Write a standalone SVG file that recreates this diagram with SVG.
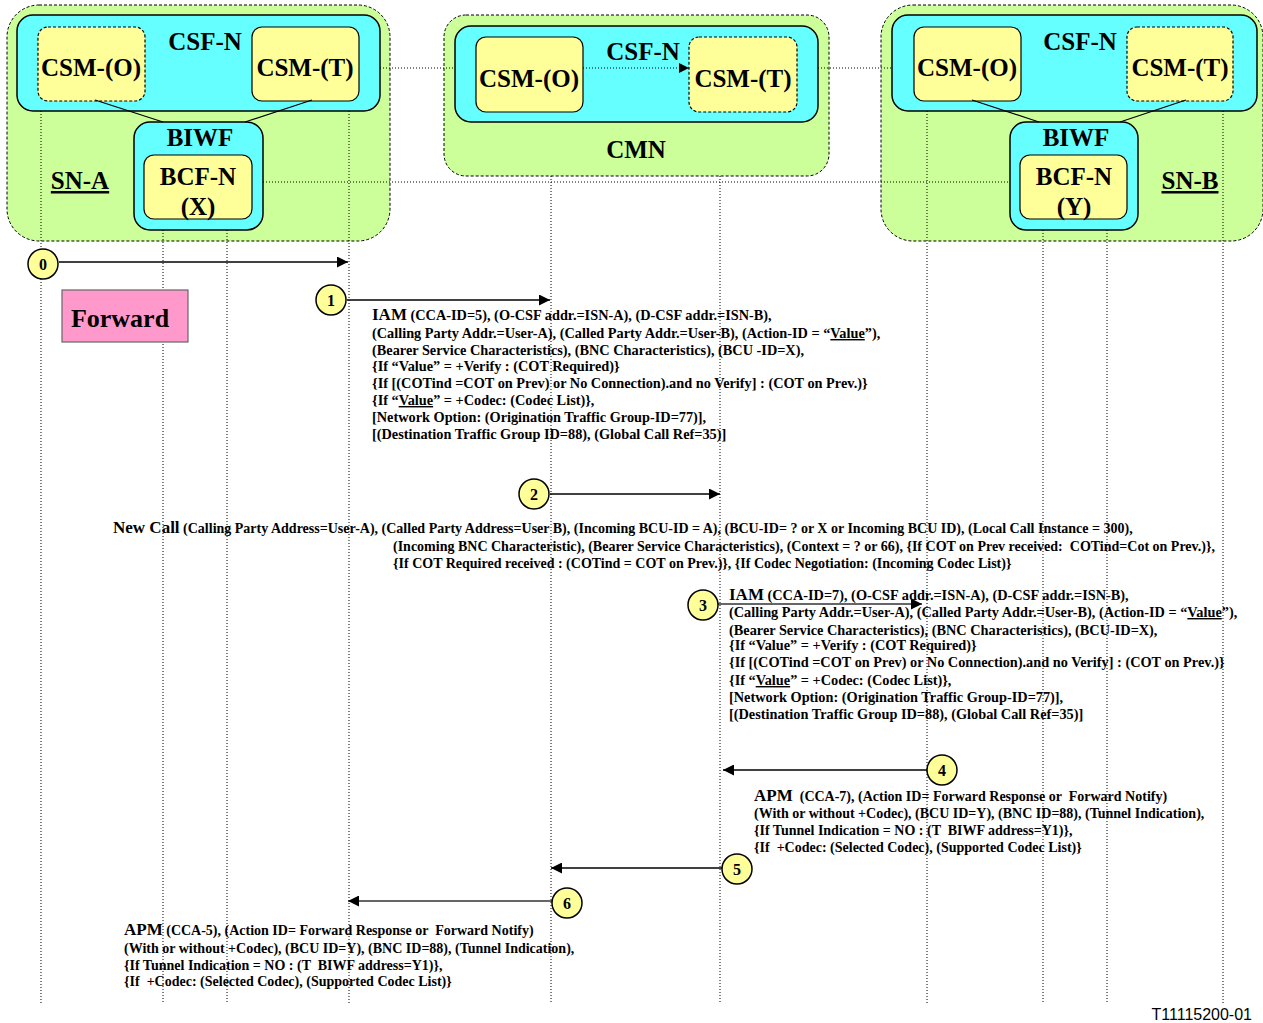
<svg xmlns="http://www.w3.org/2000/svg" width="1263" height="1023" viewBox="0 0 1263 1023">
<defs>
<marker id="ah" viewBox="0 0 10 10" refX="10" refY="5" markerWidth="15" markerHeight="11" markerUnits="userSpaceOnUse" orient="auto"><path d="M0,0L10,5L0,10z" fill="#000"/></marker>
<marker id="ahs" viewBox="0 0 10 10" refX="10" refY="5" markerWidth="13" markerHeight="10" markerUnits="userSpaceOnUse" orient="auto"><path d="M0,0L10,5L0,10z" fill="#000"/></marker>
</defs>
<style>
.grn{fill:#CCFF99;stroke:#000;stroke-width:1;stroke-dasharray:3,2}
.cyn{fill:#66FFFF;stroke:#000;stroke-width:1.5}
.yel{fill:#FFFF99;stroke:#000;stroke-width:1.2}
.yeld{fill:#FFFF99;stroke:#000;stroke-width:1.2;stroke-dasharray:3,2}
.dot{stroke:#000;stroke-width:1;stroke-dasharray:1,2;fill:none}
.ln{stroke:#000;stroke-width:1.2;fill:none}
.arr{stroke:#000;stroke-width:1.6;fill:none;marker-end:url(#ah)}
.cir{fill:#FFFF99;stroke:#000;stroke-width:1.5}
.big{font-family:"Liberation Serif",serif;font-weight:bold;font-size:25px;text-anchor:middle;fill:#000}
.num{font-family:"Liberation Serif",serif;font-weight:bold;font-size:16px;text-anchor:middle;fill:#000}
.msg{font-family:"Liberation Serif",serif;font-weight:bold;font-size:14px;fill:#000;white-space:pre}
.iam{font-size:14.3px}
.hd{font-size:17px}
.u{text-decoration:underline}
</style>

<g id="SN-A">
<rect class="grn" x="7" y="5" width="383" height="236" rx="32"/>
<text class="big" x="80" y="189"><tspan class="u">SN-A</tspan></text>
</g>
<g id="CMN">
<rect class="grn" x="444" y="15" width="385" height="161" rx="22"/>
<text class="big" x="636" y="158">CMN</text>
</g>
<g id="SN-B">
<rect class="grn" x="881" y="5" width="382" height="236" rx="32"/>
<text class="big" x="1190" y="189"><tspan class="u">SN-B</tspan></text>
</g>

<g id="lifelines">
<line class="dot" x1="41" y1="111" x2="41" y2="1003"/>
<line class="dot" x1="163" y1="230" x2="163" y2="1003"/>
<line class="dot" x1="227" y1="230" x2="227" y2="1003"/>
<line class="dot" x1="349" y1="111" x2="349" y2="1003"/>
<line class="dot" x1="551" y1="176" x2="551" y2="1003"/>
<line class="dot" x1="720" y1="176" x2="720" y2="1003"/>
<line class="dot" x1="927" y1="111" x2="927" y2="1003"/>
<line class="dot" x1="1043" y1="230" x2="1043" y2="1003"/>
<line class="dot" x1="1107" y1="230" x2="1107" y2="1003"/>
<line class="dot" x1="1223" y1="111" x2="1223" y2="1003"/>
<line class="dot" x1="380" y1="68" x2="455" y2="68"/>
<line class="dot" x1="818" y1="68" x2="892" y2="68"/>
<line class="dot" x1="263" y1="182" x2="1010" y2="182"/>
</g>

<g id="CSF-N-A">
<rect class="cyn" x="17" y="15" width="363" height="96" rx="16"/>
<text class="big" x="205" y="50">CSF-N</text>
</g>
<g id="CSM-O-A">
<rect class="yeld" x="38" y="27" width="107" height="74" rx="10"/>
<text class="big" x="91" y="76">CSM-(O)</text>
</g>
<g id="CSM-T-A">
<rect class="yel" x="252" y="27" width="107" height="74" rx="10"/>
<text class="big" x="305" y="76">CSM-(T)</text>
</g>
<g id="BIWF-A">
<rect class="cyn" x="134" y="122" width="129" height="108" rx="16"/>
<text class="big" x="200" y="146">BIWF</text>
</g>
<g id="BCF-N-X">
<rect class="yel" x="144" y="155" width="108" height="64" rx="10"/>
<text class="big" x="198" y="185">BCF-N</text>
<text class="big" x="198" y="215">(X)</text>
</g>

<g id="CSF-N-CMN">
<rect class="cyn" x="455" y="26" width="363" height="96" rx="16"/>
<text class="big" x="643" y="60">CSF-N</text>
</g>
<g id="CSM-O-CMN">
<rect class="yel" x="476" y="37" width="107" height="75" rx="10"/>
<text class="big" x="529" y="87">CSM-(O)</text>
</g>
<g id="CSM-T-CMN">
<rect class="yeld" x="689" y="37" width="108" height="75" rx="10"/>
<text class="big" x="743" y="87">CSM-(T)</text>
</g>

<g id="CSF-N-B">
<rect class="cyn" x="892" y="15" width="365" height="96" rx="16"/>
<text class="big" x="1080" y="50">CSF-N</text>
</g>
<g id="CSM-O-B">
<rect class="yel" x="914" y="27" width="107" height="74" rx="10"/>
<text class="big" x="967" y="76">CSM-(O)</text>
</g>
<g id="CSM-T-B">
<rect class="yeld" x="1127" y="27" width="106" height="74" rx="10"/>
<text class="big" x="1180" y="76">CSM-(T)</text>
</g>
<g id="BIWF-B">
<rect class="cyn" x="1010" y="122" width="128" height="108" rx="16"/>
<text class="big" x="1076" y="146">BIWF</text>
</g>
<g id="BCF-N-Y">
<rect class="yel" x="1020" y="155" width="107" height="64" rx="10"/>
<text class="big" x="1074" y="185">BCF-N</text>
<text class="big" x="1074" y="215">(Y)</text>
</g>

<g id="Forward">
<rect x="62" y="290" width="126" height="52" fill="#FF99CC" stroke="#666" stroke-width="1.2"/>
<text class="big" x="120" y="327" style="font-size:26px">Forward</text>
</g>

<g id="connectors">
<line class="ln" x1="95" y1="100" x2="163" y2="122"/>
<line class="ln" x1="312" y1="100" x2="245" y2="122"/>
<line class="ln" x1="972" y1="100" x2="1039" y2="122"/>
<line class="ln" x1="1186" y1="100" x2="1120" y2="122"/>
<line class="dot" x1="583" y1="68" x2="689" y2="68" style="marker-end:url(#ahs)"/>
<line class="arr" x1="59" y1="262" x2="348" y2="262"/>
<line class="arr" x1="347" y1="300" x2="550" y2="300"/>
<line class="arr" x1="550" y1="494" x2="720" y2="494"/>
<line class="arr" x1="718" y1="604" x2="922" y2="604" style="stroke:#333"/>
<line class="arr" x1="927" y1="770" x2="723" y2="770"/>
<line class="arr" x1="722" y1="868" x2="551" y2="868"/>
<line class="arr" x1="552" y1="901" x2="348" y2="901" style="stroke:#333"/>
</g>

<g id="step0"><circle class="cir" cx="43" cy="264" r="15"/><text class="num" x="43" y="270">0</text></g>
<g id="step1"><circle class="cir" cx="331" cy="300" r="15"/><text class="num" x="331" y="306">1</text></g>
<g id="step2"><circle class="cir" cx="534" cy="494" r="15"/><text class="num" x="534" y="500">2</text></g>
<g id="step3"><circle class="cir" cx="703" cy="605" r="15"/><text class="num" x="703" y="611">3</text></g>
<g id="step4"><circle class="cir" cx="942" cy="770" r="15"/><text class="num" x="942" y="776">4</text></g>
<g id="step5"><circle class="cir" cx="737" cy="869" r="15"/><text class="num" x="737" y="875">5</text></g>
<g id="step6"><circle class="cir" cx="567" cy="903" r="15"/><text class="num" x="567" y="909">6</text></g>

<g id="msg1" class="msg iam">
<text class="msg iam" x="372" y="320"><tspan class="hd">IAM</tspan> (CCA-ID=5), (O-CSF addr.=ISN-A), (D-CSF addr.=ISN-B),</text>
<text class="msg iam" x="372" y="338">(Calling Party Addr.=User-A), (Called Party Addr.=User-B), (Action-ID = “<tspan class="u">Value</tspan>”),</text>
<text class="msg iam" x="372" y="355">(Bearer Service Characteristics), (BNC Characteristics), (BCU -ID=X),</text>
<text class="msg iam" x="372" y="371">{If “Value” = +Verify : (COT Required)}</text>
<text class="msg iam" x="372" y="388">{If [(COTind =COT on Prev) or No Connection).and no Verify] : (COT on Prev.)}</text>
<text class="msg iam" x="372" y="405">{If “<tspan class="u">Value</tspan>” = +Codec: (Codec List)},</text>
<text class="msg iam" x="372" y="422">[Network Option: (Origination Traffic Group-ID=77)],</text>
<text class="msg iam" x="372" y="439">[(Destination Traffic Group ID=88), (Global Call Ref=35)]</text>
</g>

<g id="msg2">
<text class="msg" x="113" y="533"><tspan class="hd">New Call</tspan> (Calling Party Address=User-A), (Called Party Address=User B), (Incoming BCU-ID = A), (BCU-ID= ? or X or Incoming BCU ID), (Local Call Instance = 300),</text>
<text class="msg" x="393" y="551">(Incoming BNC Characteristic), (Bearer Service Characteristics), (Context = ? or 66), {If COT on Prev received:  COTind=Cot on Prev.)},</text>
<text class="msg" x="393" y="568">{If COT Required received : (COTind = COT on Prev.)}, {If Codec Negotiation: (Incoming Codec List)}</text>
</g>

<g id="msg3">
<text class="msg iam" x="729" y="600"><tspan class="hd">IAM</tspan> (CCA-ID=7), (O-CSF addr.=ISN-A), (D-CSF addr.=ISN-B),</text>
<text class="msg iam" x="729" y="617">(Calling Party Addr.=User-A), (Called Party Addr.=User-B), (Action-ID = “<tspan class="u">Value</tspan>”),</text>
<text class="msg iam" x="729" y="635">(Bearer Service Characteristics), (BNC Characteristics), (BCU-ID=X),</text>
<text class="msg iam" x="729" y="650">{If “Value” = +Verify : (COT Required)}</text>
<text class="msg iam" x="729" y="667">{If [(COTind =COT on Prev) or No Connection).and no Verify] : (COT on Prev.)}</text>
<text class="msg iam" x="729" y="685">{If “<tspan class="u">Value</tspan>” = +Codec: (Codec List)},</text>
<text class="msg iam" x="729" y="702">[Network Option: (Origination Traffic Group-ID=77)],</text>
<text class="msg iam" x="729" y="719">[(Destination Traffic Group ID=88), (Global Call Ref=35)]</text>
</g>

<g id="msg4">
<text class="msg" x="754" y="801"><tspan class="hd">APM</tspan>  (CCA-7), (Action ID= Forward Response or  Forward Notify)</text>
<text class="msg" x="754" y="818">(With or without +Codec), (BCU ID=Y), (BNC ID=88), (Tunnel Indication),</text>
<text class="msg" x="754" y="835">{If Tunnel Indication = NO : (T  BIWF address=Y1)},</text>
<text class="msg" x="754" y="852">{If  +Codec: (Selected Codec), (Supported Codec List)}</text>
</g>

<g id="msg6">
<text class="msg" x="124" y="935"><tspan class="hd">APM</tspan> (CCA-5), (Action ID= Forward Response or  Forward Notify)</text>
<text class="msg" x="124" y="953">(With or without +Codec), (BCU ID=Y), (BNC ID=88), (Tunnel Indication),</text>
<text class="msg" x="124" y="970">{If Tunnel Indication = NO : (T  BIWF address=Y1)},</text>
<text class="msg" x="124" y="986">{If  +Codec: (Selected Codec), (Supported Codec List)}</text>
</g>

<text x="1252" y="1020" style="font-family:'Liberation Sans',Arial,sans-serif;font-size:16px;text-anchor:end;fill:#000">T11115200-01</text>
</svg>
